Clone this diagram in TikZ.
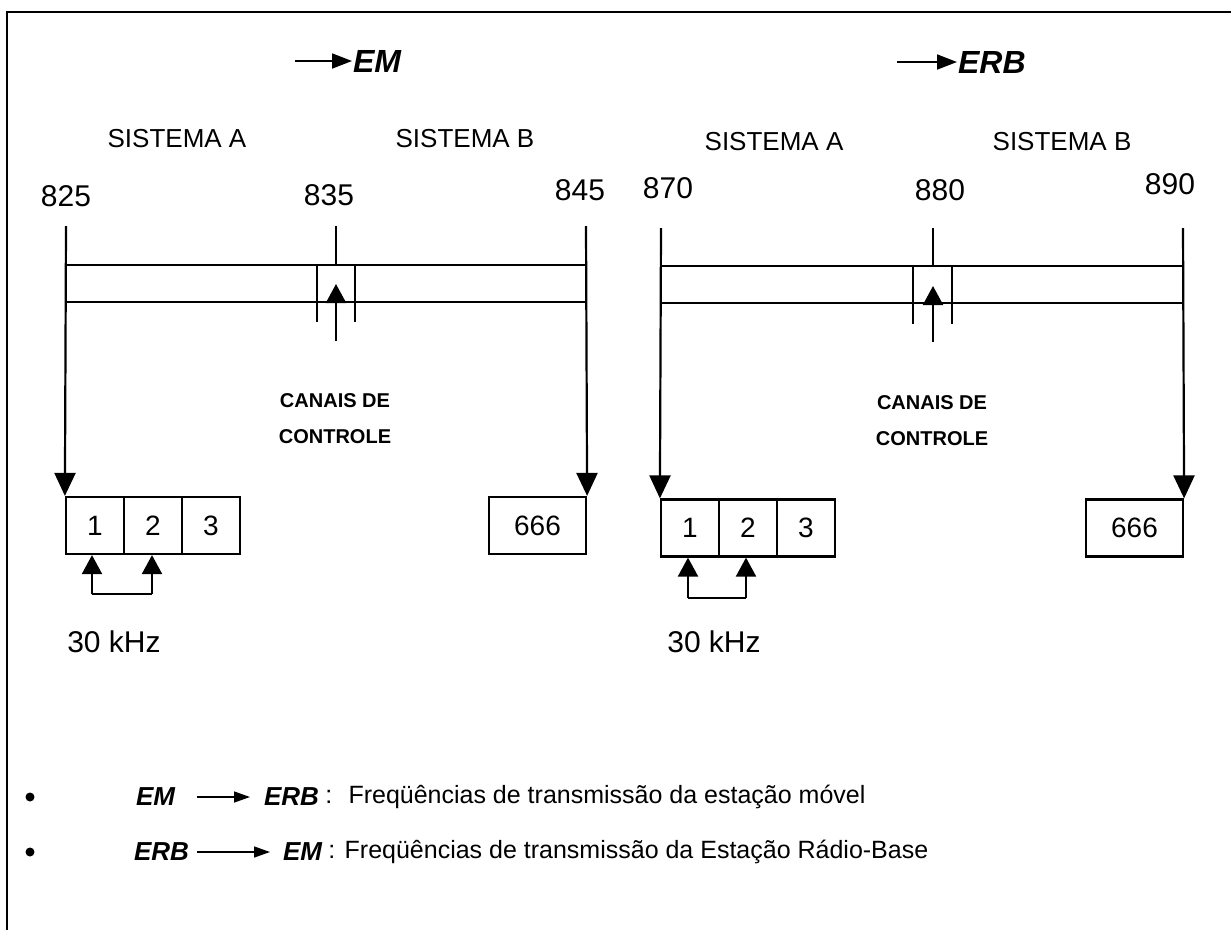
\documentclass[tikz,border=0pt]{standalone}
\usepackage{fontspec}
\setmainfont{Liberation Sans}
\usetikzlibrary{arrows.meta}
\begin{document}
\begin{tikzpicture}[x=1pt,y=-1pt,line width=2.2pt,
  num/.style={font=\fontsize{30}{36}\selectfont,inner sep=0},
  sis/.style={font=\fontsize{26}{30}\selectfont,inner sep=0},
  ctl/.style={font=\bfseries\fontsize{20}{24}\selectfont,inner sep=0},
  head/.style={font=\bfseries\itshape\fontsize{32}{36}\selectfont,inner sep=0,anchor=west},
  leg/.style={font=\fontsize{25}{30}\selectfont,inner sep=0,anchor=west},
  legb/.style={font=\bfseries\itshape\fontsize{26}{30}\selectfont,inner sep=0,anchor=west},
  cell/.style={draw,minimum width=58pt,minimum height=57pt,inner sep=0,font=\fontsize{28}{34}\selectfont},
  bigarrow/.style={-{Triangle[width=21pt,length=23pt]}},
  smallarrow/.style={-{Triangle[width=20pt,length=19pt]}},
  headarrow/.style={line width=1.8pt,-{Triangle[width=15pt,length=20pt]}},
  legarrow/.style={line width=1.4pt,-{Triangle[width=11pt,length=16pt]}},
  band/.style={line width=2.2pt}]
\useasboundingbox (0,0) rectangle (1231,930);
% frame
\draw[line width=2.5pt] (7,930) -- (7,12) -- (1231,12);

% ===== left diagram =====
\node[head] (emA) at (352,61) {EM};
\coordinate (hA) at (295,61);
\draw[headarrow] (hA) -- (emA.west);
\node[sis] (sAa) at (177,139) {SISTEMA A};
\node[sis] (sAb) at (465,139) {SISTEMA B};
\node[num] (n825) at (66,196) {825};
\node[num] (n835) at (329,195) {835};
\node[num] (n845) at (580,190) {845};
\coordinate (t825) at (66,226);
\coordinate (t835) at (336,226);
\coordinate (t845) at (586,226);
\draw[band] (66,265) -- (586,265);
\draw[band] (66,302) -- (586,302);
\draw (t835) -- (336,265);
\draw (317,265) -- (317,322);
\draw (355,265) -- (355,322);
\coordinate (cA) at (336,341);
\draw[smallarrow] (cA) -- (336,284);
\node[ctl] (caA) at (335,401) {CANAIS DE};
\node[ctl] (coA) at (335,437) {CONTROLE};
\node[cell] (a1) at (95,525.5) {1};
\node[cell] (a2) at (153,525.5) {2};
\node[cell] (a3) at (211,525.5) {3};
\node[cell,minimum width=97pt] (a666) at (537.5,525.5) {666};
\draw[bigarrow] (t825) -- (a1.north west);
\draw[bigarrow] (t845) -- (a666.north east);
\coordinate (bA1) at (92,594);
\coordinate (bA2) at (152,594);
\draw[smallarrow] (bA1) -- (bA1 |- a1.south);
\draw[smallarrow] (bA2) -- (bA2 |- a2.south);
\draw (bA1) -- (bA2);
\node[num] (kA) at (114,642) {30 kHz};

% ===== right diagram =====
\node[head] (erbB) at (957,62) {ERB};
\coordinate (hB) at (897,62);
\draw[headarrow] (hB) -- (erbB.west);
\node[sis] (sBa) at (774,142) {SISTEMA A};
\node[sis] (sBb) at (1062,142) {SISTEMA B};
\node[num] (n870) at (668,188) {870};
\node[num] (n880) at (940,190) {880};
\node[num] (n890) at (1170,184) {890};
\coordinate (t870) at (661,228);
\coordinate (t880) at (933,228);
\coordinate (t890) at (1183,228);
\draw[band] (661,266) -- (1183,266);
\draw[band] (661,303) -- (1183,303);
\draw (t880) -- (933,266);
\draw (913,266) -- (913,324);
\draw (952,266) -- (952,324);
\coordinate (cB) at (933,342);
\draw[smallarrow] (cB) -- (933,286);
\node[ctl] (caB) at (932,403) {CANAIS DE};
\node[ctl] (coB) at (932,439) {CONTROLE};
\node[cell] (b1) at (690,528) {1};
\node[cell] (b2) at (748,528) {2};
\node[cell] (b3) at (806,528) {3};
\node[cell,minimum width=97pt] (b666) at (1134.5,528) {666};
\draw[bigarrow] (t870) -- (b1.north west);
\draw[bigarrow] (t890) -- (b666.north east);
\coordinate (bB1) at (688,598);
\coordinate (bB2) at (746,598);
\draw[smallarrow] (bB1) -- (bB1 |- b1.south);
\draw[smallarrow] (bB2) -- (bB2 |- b2.south);
\draw (bB1) -- (bB2);
\node[num] (kB) at (714,642) {30 kHz};

% ===== legend =====
\fill (30,797) circle (4.5pt);
\node[legb] (l1a) at (135,797) {EM};
\node[legb] (l1b) at (263,797) {ERB};
\draw[legarrow] (197,797) coordinate (l1s) -- (l1b.west -| 250,0);
\node[leg] (l1t) at (l1b.east) {\,:\; Freqüências de transmissão da estação móvel};
\fill (30,852) circle (4.5pt);
\node[legb] (l2a) at (133,852) {ERB};
\node[legb] (l2b) at (282,852) {EM};
\draw[legarrow] (197,852) coordinate (l2s) -- (l2b.west -| 270,0);
\node[leg] (l2t) at (l2b.east) {\,: Freqüências de transmissão da Estação Rádio-Base};
\end{tikzpicture}
\end{document}
